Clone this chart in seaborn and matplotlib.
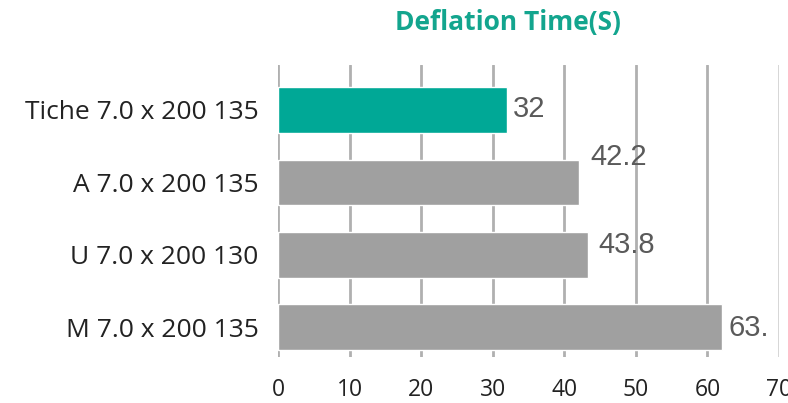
import matplotlib
matplotlib.use("Agg")
import matplotlib.pyplot as plt
import seaborn as sns
import pandas as pd

categories = ["Tiche 7.0 x 200 135", "A 7.0 x 200 135", "U 7.0 x 200 130", "M 7.0 x 200 135"]
values = [32, 42.0, 43.3, 62.1]
value_labels = ["32", "42.2", "43.8", "63."]
bar_colors = ["#00A896", "#A0A0A0", "#A0A0A0", "#A0A0A0"]
x_ticks = [0, 10, 20, 30, 40, 50, 60, 70]
title = "Deflation Time(S)"

sns.set_theme(style="white")
plt.rcParams['font.family'] = ['Open Sans', 'DejaVu Sans']

df = pd.DataFrame({"cat": categories, "val": values})

fig = plt.figure(figsize=(7.88, 4.03), dpi=100)
ax = fig.add_axes([0.3528, 0.1141, 0.6358, 0.7246])

sns.barplot(data=df, y="cat", x="val", hue="cat", palette=bar_colors,
            orient="h", width=0.63, legend=False, ax=ax, saturation=1, zorder=3)

ax.set_xlim(0, 70)
ax.set_ylim(3.41, -0.62)
ax.set_xticks(x_ticks)
ax.set_xticklabels([str(t) for t in x_ticks])
for t in x_ticks:
    ax.axvline(t, color="#B0B0B0" if t < 70 else "#D0D0D0", lw=2 if t < 70 else 1.2, zorder=1)

for s in ax.spines.values():
    s.set_visible(False)
ax.set_xlabel("")
ax.set_ylabel("")
ax.tick_params(axis="y", length=0, pad=14, labelsize=19, labelcolor="#222222")
ax.tick_params(axis="x", length=0, pad=15, labelsize=16.5, labelcolor="#222222")

# value labels (offsets relative to bar ends)
label_dx = [0.8, 1.6, 1.4, 0.8]
label_dy = [-0.01, -0.35, -0.14, 0.01]
for i, (v, lab) in enumerate(zip(values, value_labels)):
    ax.text(v + label_dx[i], i + label_dy[i], lab, va="center", ha="left",
            fontsize=21, color="#5A5A5A", family=["Liberation Sans", "DejaVu Sans"], zorder=4)

fig.text(0.645, 0.943, title, ha="center", va="center", fontsize=19,
         fontweight="bold", color="#13A58E")

fig.savefig("out.png", dpi=100)
